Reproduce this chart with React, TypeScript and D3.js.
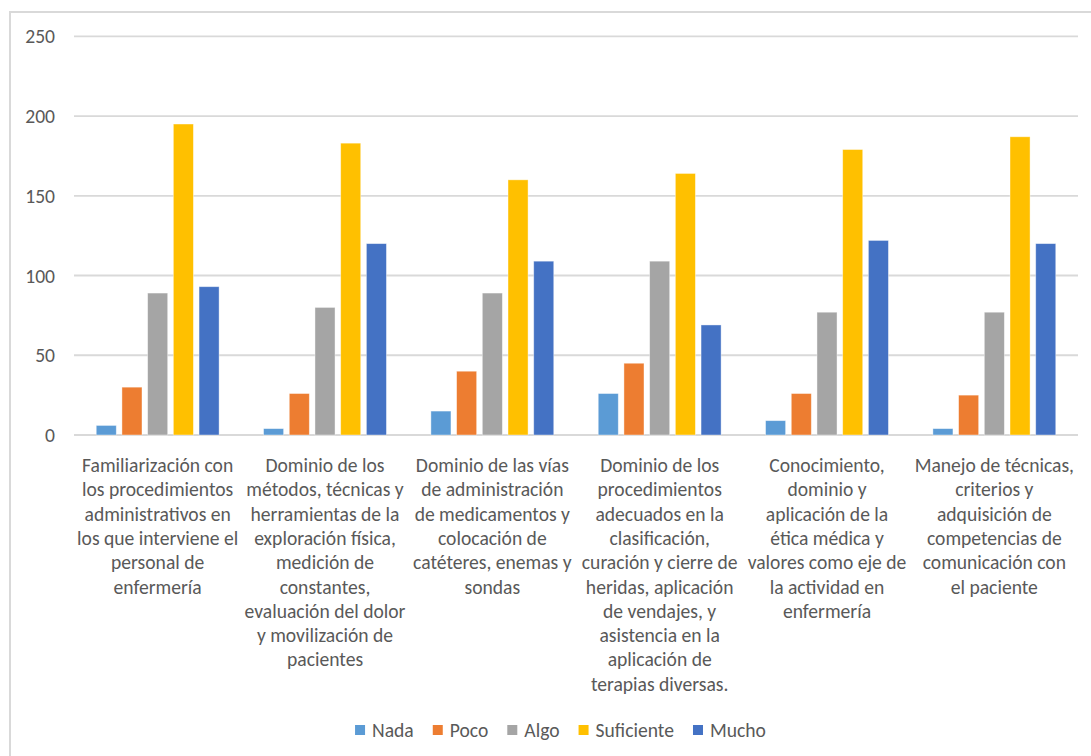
import React, { useEffect, useRef } from "react";
import * as d3 from "d3";

const categories: string[][] = [
  ["Familiarización con", "los procedimientos", "administrativos en", "los que interviene el", "personal de", "enfermería"],
  ["Dominio de los", "métodos, técnicas y", "herramientas de la", "exploración física,", "medición de", "constantes,", "evaluación del dolor", "y movilización de", "pacientes"],
  ["Dominio de las vías", "de administración", "de medicamentos y", "colocación de", "catéteres, enemas y", "sondas"],
  ["Dominio de los", "procedimientos", "adecuados en la", "clasificación,", "curación y cierre de", "heridas, aplicación", "de vendajes, y", "asistencia en la", "aplicación de", "terapias diversas."],
  ["Conocimiento,", "dominio y", "aplicación de la", "ética médica y", "valores como eje de", "la actividad en", "enfermería"],
  ["Manejo de técnicas,", "criterios y", "adquisición de", "competencias de", "comunicación con", "el paciente"],
];

const seriesNames = ["Nada", "Poco", "Algo", "Suficiente", "Mucho"];
const seriesColors = ["#5B9BD5", "#ED7D31", "#A5A5A5", "#FFC000", "#4472C4"];

const nada = [6, 4, 15, 26, 9, 4];
const poco = [30, 26, 40, 45, 26, 25];
const algo = [89, 80, 89, 109, 77, 77];
const suficiente = [195, 183, 160, 164, 179, 187];
const mucho = [93, 120, 109, 69, 122, 120];

const yTicks = [0, 50, 100, 150, 200, 250];

const W = 1091;
const H = 756;
const FONT = "Carlito, Calibri, Lato, sans-serif";
const TEXT = "#595959";
const GRID = "#D9D9D9";
const FS = 19.6;

export default function App() {
  const ref = useRef<SVGSVGElement | null>(null);

  useEffect(() => {
    const svg = d3.select(ref.current);
    svg.selectAll("*").remove();

    const series = [nada, poco, algo, suficiente, mucho];
    const left = 74, right = 1078, top = 36.3, bottom = 435;

    // frame
    svg.append("rect")
      .attr("x", 10).attr("y", 12).attr("width", W + 20).attr("height", H + 20)
      .attr("fill", "white").attr("stroke", GRID).attr("stroke-width", 2);

    const idx = categories.map((_, i) => String(i));
    const x0 = d3.scaleBand<string>().domain(idx).range([left, right]).paddingInner(0.232).paddingOuter(0.116);
    const x1 = d3.scaleBand<string>().domain(seriesNames).range([0, x0.bandwidth()]).paddingInner(0.22).paddingOuter(0.11);
    const y = d3.scaleLinear().domain([0, 250]).range([bottom, top]);

    // gridlines
    svg.append("g").selectAll("line").data(yTicks).join("line")
      .attr("x1", left).attr("x2", right)
      .attr("y1", (d) => y(d)).attr("y2", (d) => y(d))
      .attr("stroke", GRID).attr("stroke-width", 1.8);

    // y tick labels
    svg.append("g").selectAll("text").data(yTicks).join("text")
      .attr("x", 55).attr("y", (d) => y(d))
      .attr("text-anchor", "end").attr("dominant-baseline", "central")
      .attr("font-family", FONT).attr("font-size", FS).attr("fill", TEXT)
      .text((d) => String(d));

    // bars
    const groups = svg.append("g").selectAll("g").data(idx).join("g")
      .attr("transform", (d) => `translate(${x0(d)},0)`);
    groups.selectAll("rect")
      .data((d) => seriesNames.map((s, si) => ({ s, si, v: series[si][+d] })))
      .join("rect")
      .attr("x", (d) => x1(d.s)!)
      .attr("width", x1.bandwidth())
      .attr("y", (d) => y(d.v))
      .attr("height", (d) => y(0) - y(d.v))
      .attr("fill", (d) => seriesColors[d.si])
      .attr("stroke", "white").attr("stroke-opacity", 0.5).attr("stroke-width", 0.8);

    // category labels
    const lineH = 24.3;
    const labels = svg.append("g").selectAll("text").data(idx).join("text")
      .attr("text-anchor", "middle")
      .attr("font-family", FONT).attr("font-size", FS).attr("fill", TEXT);
    labels.each(function (d) {
      const t = d3.select(this);
      const cx = x0(d)! + x0.bandwidth() / 2;
      categories[+d].forEach((line, li) => {
        t.append("tspan").attr("x", cx).attr("y", 465 + li * lineH)
          .attr("dominant-baseline", "central").text(line);
      });
    });

    // legend
    const legend = svg.append("g");
    const items = seriesNames.map((name, i) => {
      const g = legend.append("g");
      g.append("rect").attr("width", 10).attr("height", 10).attr("y", -5).attr("fill", seriesColors[i]);
      const txt = g.append("text").attr("x", 17).attr("dominant-baseline", "central")
        .attr("font-family", FONT).attr("font-size", FS).attr("fill", TEXT).text(name);
      const w = 17 + (txt.node() as SVGTextElement).getComputedTextLength();
      return { g, w };
    });
    const gap = 19;
    const total = d3.sum(items, (d) => d.w) + gap * (items.length - 1);
    let cx = 560.5 - total / 2;
    items.forEach((it) => {
      it.g.attr("transform", `translate(${cx},730)`);
      cx += it.w + gap;
    });
  }, []);

  return (
    <svg ref={ref} width={W} height={H}
      style={{ position: "absolute", left: 0, top: 0, background: "white" }} />
  );
}
